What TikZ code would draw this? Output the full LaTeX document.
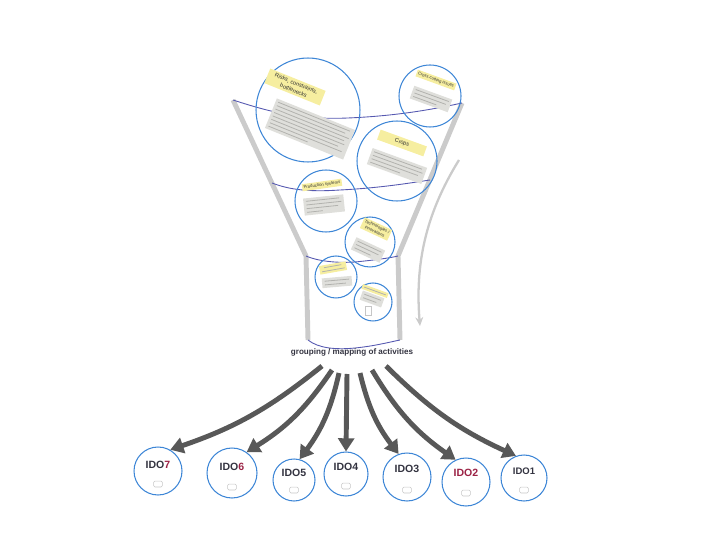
\documentclass[tikz,border=0pt]{standalone}
\usepackage{fontspec}
\setmainfont{Liberation Sans}
\usetikzlibrary{calc}
\usetikzlibrary{arrows.meta}

\definecolor{bubblue}{HTML}{3D86D6}
\definecolor{rimblue}{HTML}{5558B0}
\definecolor{funnelgray}{HTML}{CBCBCB}
\definecolor{arrowgray}{HTML}{585858}
\definecolor{notegold}{HTML}{F6EEA0}
\definecolor{notegray}{HTML}{DFDFDB}
\definecolor{rowgray}{HTML}{B2B2AE}
\definecolor{idored}{HTML}{9B2245}
\definecolor{idotext}{HTML}{333340}

\newcommand{\grayrow}[1]{\textcolor{rowgray}{\rule{#1}{0.45pt}}}

\tikzset{
  bub/.style={circle, draw=bubblue, line width=0.6pt, inner sep=0pt, minimum size=#1},
  title/.style={fill=notegold, font=\fontsize{3.2}{4.2}\selectfont, align=center, inner sep=1.2pt, text=black!80},
  smalltitle/.style={title, font=\fontsize{2.4}{3.2}\selectfont, inner sep=0.9pt},
  notes/.style={fill=notegray, font=\fontsize{2}{2.1}\selectfont, align=left, inner sep=1.5pt},
  idolab/.style={font=\bfseries\fontsize{6}{7}\selectfont, text=idotext},
  icon/.style={draw=gray!45, line width=0.3pt, rounded corners=0.8pt, minimum width=5pt, minimum height=3.4pt, inner sep=0pt},
  flow/.style={arrowgray, line width=2.8pt, -{Triangle[length=7.5pt,width=9pt]}},
  rim/.style={rimblue, line width=0.5pt},
  wall/.style={funnelgray, line width=2.8pt, line join=round}
}

\begin{document}
\begin{tikzpicture}[x=0.02cm, y=-0.02cm]
\useasboundingbox (0,0) rectangle (720,540);

% funnel walls
\coordinate (tl) at (233,100);
\coordinate (tr) at (462,103);
\coordinate (nl) at (306,256);
\coordinate (nr) at (398,256);
\coordinate (bl) at (308,340);
\coordinate (br) at (400,340);
\draw[wall] (tl) -- (nl) -- (bl);
\draw[wall] (tr) -- (nr) -- (br);

% rims
\draw[rim] (tl) .. controls (270,112) and (300,120) .. (348,118) .. controls (395,116) and (430,110) .. (tr);
\draw[rim] (272,183) .. controls (290,190) and (310,192) .. (340,190) .. controls (380,188) and (410,183) .. (430,180);
\draw[rim] (nl) .. controls (320,262) and (340,263) .. (355,262) .. controls (375,260) and (390,258) .. (nr);
\draw[rim] (bl) .. controls (318,348) and (335,350) .. (355,348) .. controls (375,346) and (390,342) .. (br);

% side cue
\coordinate (cueA) at (459,160);
\coordinate (cueB) at (420,326);
\draw[funnelgray, line width=1.3pt, -{Stealth[length=5pt,width=4.5pt]}] (cueA) .. controls (425,215) and (415,265) .. (cueB);

% bubbles
\node[bub=2.08cm] (risks) at (308,110) {};
\node[title, rotate=-22, minimum width=34pt] (risksT) at (295,87) {Risks, constraints,\\bottlenecks};
\node[notes, rotate=-22] (risksN) at (310,129) {\grayrow{44pt}\\\grayrow{42pt}\\\grayrow{45pt}\\\grayrow{43pt}\\\grayrow{44pt}\\\grayrow{41pt}\\\grayrow{44pt}\\\grayrow{24pt}};

\node[bub=1.24cm] (cross) at (430,96) {};
\node[smalltitle, rotate=-20] (crossT) at (436,80) {Cross-cutting issues};
\node[notes, rotate=-20] (crossN) at (431,99) {\grayrow{20pt}\\\grayrow{19pt}\\\grayrow{14pt}};

\node[bub=1.6cm] (crops) at (397,161) {};
\node[title, rotate=-20, minimum width=28pt, minimum height=6pt] (cropsT) at (402,143) {Crops};
\node[notes, rotate=-20] (cropsN) at (397,166) {\grayrow{29pt}\\\grayrow{30pt}\\\grayrow{28pt}\\\grayrow{18pt}};

\node[bub=1.24cm] (prod) at (326,201) {};
\node[smalltitle, rotate=8] (prodT) at (322,185) {Production systems};
\node[notes, rotate=6] (prodN) at (324,205) {\grayrow{19pt}\\\grayrow{20pt}\\\grayrow{18pt}\\\grayrow{9pt}};

\node[bub=1.0cm] (tech) at (370,242) {};
\node[smalltitle, rotate=-25] (techT) at (376,229) {Technologies /\\innovations};
\node[notes, rotate=-25] (techN) at (368,250) {\grayrow{15pt}\\\grayrow{14pt}\\\grayrow{10pt}};

\node[bub=0.84cm] (grpA) at (336,277) {};
\node[title, rotate=10, font=\fontsize{2}{2.1}\selectfont] (grpAT) at (333,268) {\grayrow{10pt}\\\grayrow{13pt}};
\node[notes, rotate=5] (grpAN) at (337,282) {\grayrow{14pt}\\\grayrow{12pt}};

\node[bub=0.76cm] (grpB) at (373,302) {};
\node[title, rotate=-20, font=\fontsize{2}{2.1}\selectfont] (grpBT) at (375,291) {\grayrow{13pt}};
\node[notes, rotate=-20] (grpBN) at (372,299) {\grayrow{10pt}\\\grayrow{8pt}};
\node[icon, rounded corners=0pt, minimum width=3.5pt, minimum height=5pt] (grpBI) at (368,311) {};

% mapping label
\node[font=\bfseries\fontsize{4.6}{5}\selectfont, text=idotext] (grp) at (352,352) {grouping / mapping of activities};

% outcome circles
\node[bub=0.96cm] (i7) at (158,471) {};
\node[bub=1.0cm] (i6) at (232,473) {};
\node[bub=0.84cm] (i5) at (294,480) {};
\node[bub=0.88cm] (i4) at (346,474) {};
\node[bub=0.96cm] (i3) at (407,477) {};
\node[bub=0.96cm] (i2) at (466,482) {};
\node[bub=0.92cm] (i1) at (524,478) {};

\node[idolab] (l7) at ($(i7)+(0,-6)$) {IDO\textcolor{idored}{7}};
\node[idolab] (l6) at ($(i6)+(0,-6)$) {IDO\textcolor{idored}{6}};
\node[idolab] (l5) at ($(i5)+(0,-7)$) {IDO5};
\node[idolab] (l4) at ($(i4)+(0,-7)$) {IDO4};
\node[idolab] (l3) at ($(i3)+(0,-8)$) {IDO3};
\node[idolab, text=idored] (l2) at ($(i2)+(0,-9)$) {IDO2};
\node[idolab, font=\bfseries\fontsize{5.4}{6}\selectfont] (l1) at ($(i1)+(0,-7)$) {IDO1};

\node[icon] (c7) at ($(i7)+(0,13)$) {};
\node[icon] (c6) at ($(i6)+(0,14)$) {};
\node[icon] (c5) at ($(i5)+(0,10)$) {};
\node[icon] (c4) at ($(i4)+(0,12)$) {};
\node[icon] (c3) at ($(i3)+(0,13)$) {};
\node[icon] (c2) at ($(i2)+(0,11)$) {};
\node[icon] (c1) at ($(i1)+(0,12)$) {};

% flows
\coordinate (s7) at (322,366);
\coordinate (s6) at (332,370);
\coordinate (s5) at (339,373);
\coordinate (s4) at (347,374);
\coordinate (s3) at (360,373);
\coordinate (s2) at (372,370);
\coordinate (s1) at (386,366);
\draw[flow] (s7) to[bend left=10] (i7.60);
\draw[flow] (s6) to[bend left=12] (i6.55);
\draw[flow] (s5) to[bend left=12] (i5.75);
\draw[flow] (s4) -- (i4.north);
\draw[flow] (s3) to[bend right=12] (i3.110);
\draw[flow] (s2) to[bend right=12] (i2.115);
\draw[flow] (s1) to[bend right=10] (i1.110);

\end{tikzpicture}
\end{document}
